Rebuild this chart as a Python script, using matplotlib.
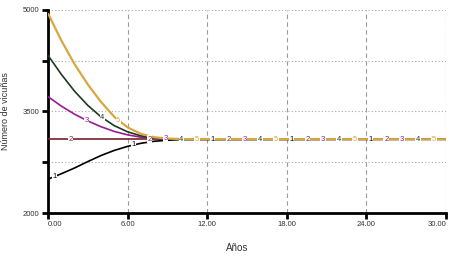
import numpy as np
import matplotlib
matplotlib.use("Agg")
import matplotlib.pyplot as plt

years = [0, 1, 2, 3, 4, 5, 6, 7, 8, 9, 10, 30]
s1 = [2500, 2580, 2665, 2760, 2850, 2925, 2985, 3030, 3060, 3075, 3085, 3090]
s2 = [3090, 3090, 3090, 3090, 3090, 3090, 3090, 3090, 3090, 3090, 3090, 3090]
s3 = [3720, 3580, 3460, 3360, 3275, 3205, 3155, 3120, 3100, 3093, 3090, 3090]
s4 = [4330, 4050, 3800, 3590, 3420, 3290, 3200, 3140, 3110, 3095, 3090, 3090]
s5 = [4950, 4550, 4200, 3900, 3640, 3420, 3265, 3170, 3120, 3100, 3093, 3090]
series = [s1, s2, s3, s4, s5]
names = ["1", "2", "3", "4", "5"]
colors = ["#000000", "#7a1f2a", "#9a1a90", "#1c3a20", "#d8a840"]
xticks = [0, 6, 12, 18, 24, 30]
xticklabels = ["0.00", "6.00", "12.00", "18.00", "24.00", "30.00"]
yticks = [2000, 2750, 3500, 4250, 5000]
yticklabels = ["2000", "", "3500", "", "5000"]

plt.rcParams['font.family'] = ['Liberation Sans', 'DejaVu Sans']
fig = plt.figure(figsize=(4.53, 2.59), dpi=100)
ax = fig.add_axes([0.106, 0.1776, 0.8785, 0.7838])

for i, (s, c) in enumerate(zip(series, colors)):
    lw = 1.6 if i == 4 else 1.2
    ax.plot(years, s, color=c, lw=lw, zorder=3 + i, solid_capstyle='butt')

# curve number labels
for i, (s, c, n) in enumerate(zip(series, colors, names)):
    for k in range(5):
        t = 0.5 + 1.2 * i + 5.95 * k
        v = np.interp(t, years, s)
        ax.text(t, v, n, color=c, fontsize=5.5, ha='center', va='center',
                zorder=10 + i,
                bbox=dict(facecolor='white', edgecolor='none', pad=0.5))

ax.set_xlim(0, 30)
ax.set_ylim(2000, 5000)
ax.set_xticks(xticks)
ax.set_xticklabels(xticklabels)
ax.set_yticks(yticks)
ax.set_yticklabels(yticklabels)
xl = ax.get_xticklabels()
xl[0].set_ha('left')
xl[-1].set_ha('right')

for x in xticks[1:]:
    ax.axvline(x, color='#999999', lw=0.8, ls=(0, (4, 3)), zorder=1)
for y in yticks[1:]:
    ax.axhline(y, color='#aaaaaa', lw=0.8, ls=(0, (1, 2)), zorder=1)

for sp in ['top', 'right']:
    ax.spines[sp].set_visible(False)
for sp in ['left', 'bottom']:
    ax.spines[sp].set_linewidth(2)
    ax.spines[sp].set_color('black')
ax.tick_params(axis='both', direction='out', length=4, width=2,
               labelsize=5.5, labelcolor='#333333', pad=2)

ax.set_xlabel("Años", fontsize=7, color='#333333')
ax.xaxis.label.set_va('center')
ax.xaxis.set_label_coords((237 - 48) / 398, -(248 - 213) / 203)
ax.set_ylabel("Número de vicuñas", fontsize=6.5, color='#333333')
ax.yaxis.set_label_coords(-0.095, 0.5)

fig.savefig("out.png", dpi=100)
